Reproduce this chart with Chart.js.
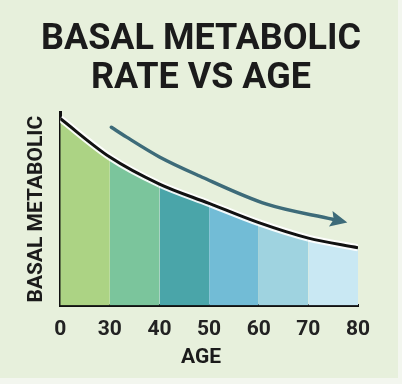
<!DOCTYPE html>
<html>
<head>
<meta charset="utf-8">
<script src="https://cdn.jsdelivr.net/npm/chart.js@4"></script>
<style>
  html, body { margin: 0; padding: 0; background: #f3f6ef; }
  #bg { position: absolute; left: 0; top: 0; width: 398px; height: 378px; background: #e7f0dc; }
  #wrap { position: absolute; left: 0; top: 0; width: 402px; height: 384px; }
</style>
</head>
<body>
<div id="bg"></div>
<div id="wrap"><canvas id="myChart"></canvas></div>
<script>
// age tick labels (equally spaced on the axis)
const ageLabels = ['0', '30', '40', '50', '60', '70', '80'];
// basal metabolic rate, relative (0-100), one value per age tick
const bmrValues = [97, 77, 63, 53, 43, 35, 30];
// colour of each band between two ages
const bandColors = ['#acd384', '#7bc59c', '#4aa5a9', '#72bcd6', '#9fd3e0', '#c9e8f3'];
// trend arrow drawn above the curve
const arrowX = [1.03, 1.33, 2.0, 2.81, 4.16, 5.49];
const arrowY = [92.5, 87.5, 77.1, 67.2, 52.6, 44.8];

const curvePoints = bmrValues.map((v, i) => ({ x: i, y: v }));
const arrowPoints = arrowX.map((x, i) => ({ x: x, y: arrowY[i] }));

const arrowHead = {
  id: 'arrowHead',
  afterDatasetsDraw(chart) {
    const meta = chart.getDatasetMeta(2);
    const pts = meta.data;
    const last = pts[pts.length - 1];
    const fromX = last.cp1x !== undefined ? last.cp1x : pts[pts.length - 2].x;
    const fromY = last.cp1y !== undefined ? last.cp1y : pts[pts.length - 2].y;
    const ang = Math.atan2(last.y - fromY, last.x - fromX);
    const ctx = chart.ctx;
    ctx.save();
    ctx.translate(last.x, last.y);
    ctx.rotate(ang);
    ctx.fillStyle = '#3d6b79';
    ctx.beginPath();
    ctx.moveTo(15, 0);
    ctx.lineTo(-2, -8);
    ctx.lineTo(1, 0);
    ctx.lineTo(-2, 8);
    ctx.closePath();
    ctx.fill();
    ctx.restore();
  }
};

const chartContext = document.getElementById('myChart').getContext('2d');
const myChart = new Chart(chartContext, {
  type: 'line',
  data: {
    datasets: [{
      data: curvePoints,
      borderColor: '#111111',
      borderWidth: 3,
      cubicInterpolationMode: 'monotone',
      pointRadius: 0,
      fill: false
    }, {
      data: curvePoints,
      borderColor: 'rgba(255,255,255,0.9)',
      borderWidth: 7,
      cubicInterpolationMode: 'monotone',
      pointRadius: 0,
      fill: 'origin',
      backgroundColor: bandColors[0],
      segment: {
        backgroundColor: ctx => bandColors[ctx.p0DataIndex]
      }
    }, {
      data: arrowPoints,
      borderColor: '#3d6b79',
      borderWidth: 3.5,
      borderCapStyle: 'round',
      cubicInterpolationMode: 'monotone',
      pointRadius: 0,
      fill: false
    }]
  },
  options: {
    responsive: true,
    maintainAspectRatio: false,
    animation: false,
    layout: { padding: { left: 24, right: 24, top: 0, bottom: 14 } },
    plugins: {
      legend: { display: false },
      tooltip: { enabled: false },
      title: {
        display: true,
        text: ['BASAL METABOLIC', 'RATE VS AGE'],
        color: '#1b1b1b',
        font: { family: 'Roboto', weight: 'bold', size: 36, lineHeight: 1.08 },
        padding: { top: 21, bottom: 14 }
      },
      subtitle: {
        display: true,
        position: 'bottom',
        text: 'AGE',
        color: '#1b1b1b',
        font: { family: 'Roboto', weight: 'bold', size: 21 },
        padding: { top: -10, bottom: 0 }
      }
    },
    scales: {
      x: {
        type: 'linear',
        min: 0,
        max: 6,
        grid: { display: false, drawTicks: false },
        border: { display: true, color: '#111111', width: 3 },
        ticks: {
          stepSize: 1,
          padding: 12,
          color: '#222222',
          font: { family: 'Roboto', weight: 'bold', size: 21 },
          callback: v => ageLabels[v]
        }
      },
      y: {
        min: 0,
        max: 100,
        grid: { display: false, drawTicks: false },
        border: { display: true, color: '#111111', width: 3 },
        ticks: { display: false },
        title: {
          display: true,
          text: 'BASAL METABOLIC',
          color: '#1b1b1b',
          font: { family: 'Roboto', weight: 'bold', size: 21 },
          padding: { top: 0, bottom: 11 }
        }
      },
      yRight: {
        position: 'right',
        min: 0,
        max: 100,
        grid: { display: false, drawTicks: false },
        border: { display: false },
        ticks: { display: false },
        afterFit: scale => { scale.width = 20; }
      }
    }
  },
  plugins: [arrowHead]
});
</script>
</body>
</html>
